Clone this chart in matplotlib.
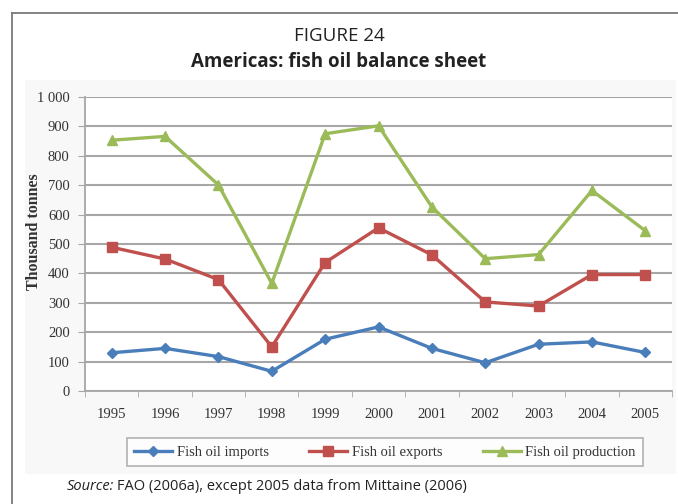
import matplotlib
matplotlib.use("Agg")
import matplotlib.pyplot as plt
from matplotlib.patches import Rectangle
from matplotlib.lines import Line2D

years = ["1995", "1996", "1997", "1998", "1999", "2000", "2001", "2002", "2003", "2004", "2005"]
imports = [130, 145, 117, 67, 176, 218, 145, 96, 159, 167, 131]
exports = [489, 449, 379, 150, 437, 555, 463, 303, 289, 396, 396]
production = [853, 866, 701, 366, 875, 902, 626, 450, 464, 682, 545]
y_ticks = [0, 100, 200, 300, 400, 500, 600, 700, 800, 900, 1000]
y_tick_labels = ["0", "100", "200", "300", "400", "500", "600", "700", "800", "900", "1 000"]
series_names = ["Fish oil imports", "Fish oil exports", "Fish oil production"]

W, H = 678, 504
fig = plt.figure(figsize=(W / 100, H / 100), dpi=100)
fig.patch.set_facecolor("white")

def fx(px):
    return px / W

def fy(py):
    return 1 - py / H

# outer frame (open to the right and bottom)
fig.add_artist(Line2D([fx(12), fx(12)], [fy(13), 0], color="#7a7a7a", lw=1.3, transform=fig.transFigure))
fig.add_artist(Line2D([fx(12), 1], [fy(13), fy(13)], color="#7a7a7a", lw=1.3, transform=fig.transFigure))

# faint chart-area background
fig.add_artist(Rectangle((fx(25), fy(474)), fx(676) - fx(25), fy(80) - fy(474),
                         facecolor="#f8f8f8", edgecolor="none", transform=fig.transFigure, zorder=0))

fig.text(0.5, fy(36), "FIGURE 24", ha="center", va="center", fontsize=13.5,
         family="Open Sans", color="#222222")
fig.text(0.5, fy(62), "Americas: fish oil balance sheet", ha="center", va="center",
         fontsize=13.5, family="Open Sans", weight="bold", color="#222222")

ax = fig.add_axes([fx(85), fy(391), fx(672) - fx(85), fy(97) - fy(391)])
ax.set_facecolor("white")
x = list(range(len(years)))

ax.plot(x, imports, color="#4A7EBB", lw=2.4, marker="D", ms=5.5, mec="#4A7EBB", zorder=4)
ax.plot(x, exports, color="#C0504D", lw=2.4, marker="s", ms=7, mec="#C0504D", zorder=4)
ax.plot(x, production, color="#9BBB59", lw=2.4, marker="^", ms=7.5, mec="#9BBB59", zorder=4)

ax.set_xlim(-0.5, len(years) - 0.5)
ax.set_ylim(0, 1000)
ax.set_yticks(y_ticks)
ax.set_yticklabels(y_tick_labels)
ax.set_xticks(x)
ax.set_xticklabels(years)
ax.set_xticks([i - 0.5 for i in range(len(years) + 1)], minor=True)

ax.yaxis.grid(True, color="#a6a6a6", lw=1.5)
ax.set_axisbelow(True)
for s in ["top", "right"]:
    ax.spines[s].set_visible(False)
for s in ["left", "bottom"]:
    ax.spines[s].set_color("#a6a6a6")
    ax.spines[s].set_linewidth(1.3)

ax.tick_params(axis="x", which="major", length=0, pad=12)
ax.tick_params(axis="x", which="minor", length=4, color="#a6a6a6", direction="out")
ax.tick_params(axis="y", length=5, color="#a6a6a6", direction="out", pad=6)
for lab in ax.get_xticklabels() + ax.get_yticklabels():
    lab.set_family("Liberation Serif")
    lab.set_fontsize(10.5)
    lab.set_color("#333333")

fig.text(fx(34), fy(232), "Thousand tonnes", rotation=90, ha="center", va="center",
         family="Liberation Serif", weight="bold", fontsize=11.5, color="#333333")

handles = [
    Line2D([], [], color="#4A7EBB", lw=2.4, marker="D", ms=5),
    Line2D([], [], color="#C0504D", lw=2.4, marker="s", ms=6.5),
    Line2D([], [], color="#9BBB59", lw=2.4, marker="^", ms=7),
]
leg = fig.legend(handles, series_names, loc="center", bbox_to_anchor=(fx(385), fy(452)),
                 ncol=3, frameon=True, fancybox=False, handlelength=2.6, handletextpad=0.3,
                 columnspacing=2.8, borderpad=0.5, prop={"family": "Liberation Serif", "size": 10.5})
leg.get_frame().set_edgecolor("#a6a6a6")
leg.get_frame().set_linewidth(1.3)
for t in leg.get_texts():
    t.set_color("#333333")

src = fig.text(fx(67), fy(486), "Source:", ha="left", va="center", fontsize=10.5,
               family="Open Sans", style="italic", color="#222222")
fig.canvas.draw()
bb = src.get_window_extent()
fig.text(bb.x1 / W + 0.004, fy(486), "FAO (2006a), except 2005 data from Mittaine (2006)",
         ha="left", va="center", fontsize=10.5, family="Open Sans", color="#222222")

fig.savefig("out.png", dpi=100)
